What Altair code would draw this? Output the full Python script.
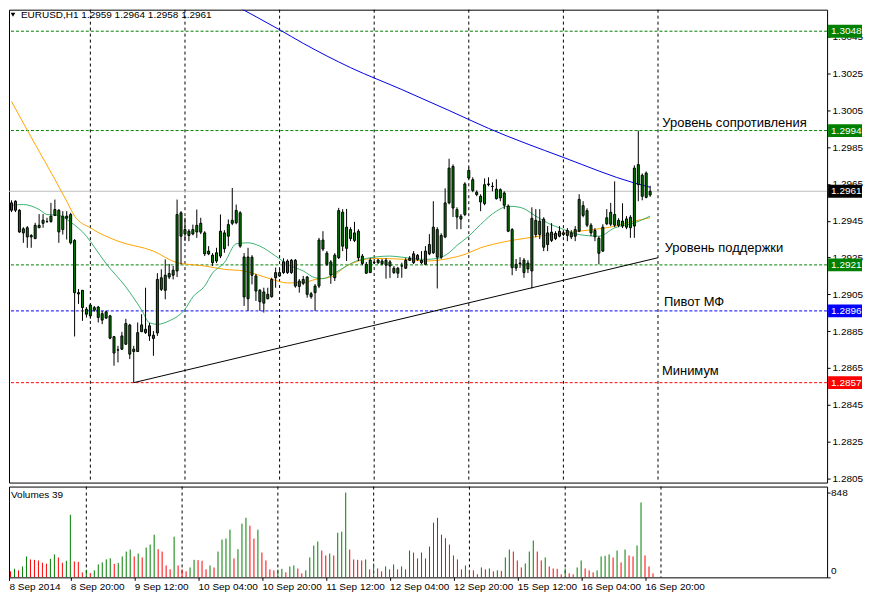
import json
import pandas as pd
import altair as alt

FONT = "Liberation Sans"
GREEN = "#008000"
RED = "#FF0000"
BLUE = "#0000FF"

# ---------------- data ----------------
OPEN = [1.29507, 1.29556, 1.29507, 1.29384, 1.29412, 1.29370, 1.29353, 1.29412, 1.29436, 1.29445,
        1.29446, 1.29479, 1.29507, 1.29402, 1.29464, 1.29484, 1.29343, 1.29059, 1.29072, 1.28969,
        1.28933, 1.28964, 1.28981, 1.28910, 1.28955, 1.28933, 1.28820, 1.28747, 1.28752, 1.28779,
        1.28883, 1.28739, 1.28739, 1.28847, 1.28842, 1.28879, 1.28828, 1.28840, 1.29140, 1.29072,
        1.29144, 1.29154, 1.29177, 1.29493, 1.29378, 1.29393, 1.29378, 1.29389, 1.29436, 1.29384,
        1.29270, 1.29263, 1.29231, 1.29258, 1.29384, 1.29366, 1.29436, 1.29439, 1.29493, 1.29253,
        1.29026, 1.29252, 1.29150, 1.29072, 1.29002, 1.29050, 1.29037, 1.29140, 1.29150, 1.29168,
        1.29231, 1.29168, 1.29235, 1.29093, 1.29110, 1.29144, 1.29053, 1.29059, 1.29095, 1.29345,
        1.29274, 1.29226, 1.29140, 1.29249, 1.29496, 1.29300, 1.29402, 1.29343, 1.29393, 1.29218,
        1.29213, 1.29168, 1.29222, 1.29236, 1.29216, 1.29235, 1.29226, 1.29192, 1.29192, 1.29204,
        1.29192, 1.29235, 1.29222, 1.29262, 1.29235, 1.29213, 1.29270, 1.29276, 1.29402, 1.29252,
        1.29362, 1.29547, 1.29745, 1.29511, 1.29459, 1.29484, 1.29724, 1.29673, 1.29605, 1.29583,
        1.29543, 1.29646, 1.29636, 1.29622, 1.29619, 1.29601, 1.29529, 1.29402, 1.29193, 1.29217,
        1.29236, 1.29220, 1.29177, 1.29452, 1.29375, 1.29459, 1.29321, 1.29388, 1.29353, 1.29366,
        1.29375, 1.29397, 1.29362, 1.29366, 1.29393, 1.29532, 1.29505, 1.29426, 1.29397, 1.29355,
        1.29285, 1.29433, 1.29431, 1.29484, 1.29425, 1.29448, 1.29415, 1.29469, 1.29421, 1.29755,
        1.29583, 1.29709, 1.29590]
HIGH = [1.29561, 1.29561, 1.29513, 1.29415, 1.29421, 1.29377, 1.29439, 1.29486, 1.29486, 1.29466,
        1.29547, 1.29565, 1.29513, 1.29502, 1.29502, 1.29493, 1.29350, 1.29079, 1.29073, 1.28981,
        1.28998, 1.28987, 1.28987, 1.28960, 1.28960, 1.28938, 1.28824, 1.28770, 1.28846, 1.28917,
        1.28890, 1.28770, 1.28897, 1.28942, 1.29086, 1.28895, 1.28851, 1.29165, 1.29186, 1.29240,
        1.29215, 1.29204, 1.29565, 1.29502, 1.29466, 1.29404, 1.29429, 1.29511, 1.29466, 1.29393,
        1.29312, 1.29274, 1.29303, 1.29484, 1.29399, 1.29457, 1.29628, 1.29538, 1.29502, 1.29274,
        1.29303, 1.29263, 1.29161, 1.29079, 1.29086, 1.29086, 1.29140, 1.29195, 1.29188, 1.29246,
        1.29240, 1.29242, 1.29242, 1.29133, 1.29150, 1.29150, 1.29063, 1.29106, 1.29357, 1.29393,
        1.29285, 1.29236, 1.29274, 1.29520, 1.29513, 1.29514, 1.29415, 1.29444, 1.29404, 1.29269,
        1.29226, 1.29247, 1.29242, 1.29242, 1.29242, 1.29247, 1.29236, 1.29204, 1.29199, 1.29222,
        1.29247, 1.29258, 1.29285, 1.29269, 1.29285, 1.29312, 1.29377, 1.29556, 1.29415, 1.29382,
        1.29626, 1.29787, 1.29756, 1.29523, 1.29486, 1.29659, 1.29740, 1.29686, 1.29615, 1.29594,
        1.29680, 1.29686, 1.29659, 1.29675, 1.29626, 1.29610, 1.29539, 1.29410, 1.29242, 1.29252,
        1.29247, 1.29236, 1.29523, 1.29513, 1.29513, 1.29469, 1.29421, 1.29437, 1.29393, 1.29421,
        1.29399, 1.29410, 1.29399, 1.29421, 1.29594, 1.29556, 1.29518, 1.29437, 1.29410, 1.29366,
        1.29431, 1.29513, 1.29547, 1.29664, 1.29464, 1.29545, 1.29475, 1.29480, 1.29751, 1.29940,
        1.29707, 1.29718, 1.29640]
LOW = [1.29497, 1.29497, 1.29384, 1.29330, 1.29303, 1.29303, 1.29350, 1.29410, 1.29412, 1.29439,
       1.29439, 1.29475, 1.29330, 1.29375, 1.29348, 1.29321, 1.28821, 1.28998, 1.28906, 1.28924,
       1.28917, 1.28955, 1.28897, 1.28888, 1.28917, 1.28806, 1.28662, 1.28680, 1.28748, 1.28775,
       1.28698, 1.28570, 1.28738, 1.28846, 1.28835, 1.28797, 1.28716, 1.28824, 1.29068, 1.29023,
       1.29133, 1.29131, 1.29144, 1.29213, 1.29339, 1.29339, 1.29371, 1.29357, 1.29377, 1.29258,
       1.29263, 1.29204, 1.29220, 1.29247, 1.29276, 1.29312, 1.29426, 1.29431, 1.29303, 1.28987,
       1.28960, 1.29104, 1.29014, 1.28960, 1.28951, 1.29023, 1.29032, 1.29086, 1.29144, 1.29161,
       1.29161, 1.29161, 1.29086, 1.29059, 1.29100, 1.29032, 1.29026, 1.28960, 1.29084, 1.29285,
       1.29204, 1.29107, 1.29122, 1.29242, 1.29285, 1.29231, 1.29339, 1.29334, 1.29231, 1.29209,
       1.29161, 1.29166, 1.29215, 1.29215, 1.29209, 1.29135, 1.29139, 1.29161, 1.29139, 1.29140,
       1.29188, 1.29231, 1.29215, 1.29231, 1.29215, 1.29209, 1.29263, 1.29269, 1.29082, 1.29242,
       1.29355, 1.29539, 1.29470, 1.29404, 1.29404, 1.29475, 1.29675, 1.29605, 1.29583, 1.29502,
       1.29534, 1.29637, 1.29610, 1.29565, 1.29556, 1.29513, 1.29388, 1.29154, 1.29177, 1.29193,
       1.29140, 1.29166, 1.29082, 1.29360, 1.29350, 1.29285, 1.29285, 1.29334, 1.29345, 1.29360,
       1.29366, 1.29339, 1.29350, 1.29339, 1.29388, 1.29469, 1.29415, 1.29366, 1.29339, 1.29213,
       1.29280, 1.29426, 1.29421, 1.29415, 1.29415, 1.29410, 1.29404, 1.29357, 1.29357, 1.29556,
       1.29561, 1.29572, 1.29580]
CLOSE = [1.29547, 1.29507, 1.29389, 1.29406, 1.29362, 1.29362, 1.29425, 1.29425, 1.29453, 1.29446,
         1.29475, 1.29511, 1.29389, 1.29475, 1.29475, 1.29330, 1.29059, 1.29052, 1.28978, 1.28942,
         1.28992, 1.28978, 1.28924, 1.28945, 1.28921, 1.28812, 1.28731, 1.28748, 1.28824, 1.28891,
         1.28725, 1.28752, 1.28842, 1.28884, 1.28860, 1.28824, 1.28810, 1.29131, 1.29077, 1.29154,
         1.29163, 1.29181, 1.29484, 1.29366, 1.29402, 1.29370, 1.29402, 1.29425, 1.29388, 1.29270,
         1.29285, 1.29222, 1.29276, 1.29393, 1.29298, 1.29429, 1.29452, 1.29506, 1.29312, 1.29036,
         1.29253, 1.29154, 1.29068, 1.29010, 1.29063, 1.29026, 1.29131, 1.29168, 1.29168, 1.29227,
         1.29168, 1.29235, 1.29095, 1.29122, 1.29131, 1.29050, 1.29037, 1.29095, 1.29345, 1.29296,
         1.29213, 1.29155, 1.29263, 1.29505, 1.29312, 1.29415, 1.29353, 1.29384, 1.29249, 1.29258,
         1.29165, 1.29236, 1.29223, 1.29222, 1.29231, 1.29209, 1.29204, 1.29168, 1.29165, 1.29204,
         1.29235, 1.29246, 1.29270, 1.29240, 1.29222, 1.29285, 1.29321, 1.29415, 1.29252, 1.29370,
         1.29547, 1.29736, 1.29519, 1.29470, 1.29475, 1.29650, 1.29682, 1.29614, 1.29592, 1.29552,
         1.29646, 1.29650, 1.29637, 1.29570, 1.29574, 1.29534, 1.29393, 1.29195, 1.29213, 1.29220,
         1.29168, 1.29188, 1.29463, 1.29375, 1.29448, 1.29306, 1.29384, 1.29343, 1.29381, 1.29393,
         1.29384, 1.29370, 1.29384, 1.29402, 1.29566, 1.29479, 1.29426, 1.29384, 1.29363, 1.29273,
         1.29415, 1.29466, 1.29496, 1.29426, 1.29452, 1.29421, 1.29460, 1.29412, 1.29736, 1.29646,
         1.29697, 1.29577, 1.29610]
VOLUME = [70, 60, 86, 70, 109, 209, 179, 175, 169, 146,
          136, 185, 229, 199, 146, 166, 626, 159, 155, 50,
          76, 43, 70, 129, 150, 180, 190, 135, 145, 209,
          258, 278, 209, 238, 199, 298, 328, 427, 282, 258,
          119, 80, 407, 119, 80, 60, 99, 175, 172, 166,
          80, 119, 99, 258, 378, 388, 477, 189, 282, 537,
          596, 517, 388, 477, 248, 169, 80, 70, 78, 85,
          50, 109, 119, 89, 40, 70, 199, 318, 358, 268,
          219, 238, 219, 447, 457, 848, 278, 179, 175, 169,
          179, 80, 139, 89, 60, 109, 80, 129, 80, 109,
          80, 268, 248, 189, 248, 189, 308, 547, 596, 427,
          391, 328, 219, 179, 80, 119, 76, 70, 30, 99,
          80, 89, 60, 70, 65, 199, 278, 258, 169, 99,
          139, 258, 368, 258, 169, 199, 109, 89, 85, 30,
          89, 40, 30, 99, 169, 89, 70, 50, 70, 209,
          215, 229, 199, 268, 149, 278, 219, 209, 318, 749,
          219, 109, 39]

# moving averages (bar index, value)
BLUE_MA_BARS = [57, 68, 74, 86, 99, 111, 121, 140, 158, 162]
BLUE_MA = [1.30617, 1.30488, 1.30414, 1.30282, 1.30163, 1.30049, 1.29952, 1.29794, 1.29655, 1.29632]
ORANGE_MA_BARS = [0, 6, 11, 14, 16, 20, 27, 36, 42, 49, 54, 59, 66, 70, 74, 77, 81, 85, 88, 92,
                  100, 105, 111, 115, 119, 122, 134, 144, 153, 158, 162]
ORANGE_MA = [1.30098, 1.29865, 1.29675, 1.29556, 1.29475, 1.29411, 1.29339, 1.29285, 1.29222, 1.29204,
             1.29186, 1.29177, 1.29132, 1.29112, 1.29113, 1.29131, 1.29144, 1.29204, 1.29231, 1.29245,
             1.29240, 1.29231, 1.29245, 1.29267, 1.29303, 1.29321, 1.29366, 1.29393, 1.29420, 1.29448,
             1.29466]
GREEN_MA_BARS = [0, 3, 7, 9, 12, 15, 19, 21, 24, 29, 33, 35, 37, 40, 44, 46, 49, 51, 54, 57,
                 60, 63, 67, 70, 74, 77, 79, 82, 85, 88, 96, 99, 105, 108, 111, 113, 116, 119, 123, 126,
                 129, 133, 136, 140, 144, 149, 153, 158, 162]
GREEN_MA = [1.29534, 1.29538, 1.29511, 1.29484, 1.29479, 1.29442, 1.29366, 1.29307, 1.29217, 1.29090,
            1.28965, 1.28895, 1.28887, 1.28906, 1.28969, 1.29036, 1.29095, 1.29166, 1.29222, 1.29325,
            1.29330, 1.29312, 1.29258, 1.29213, 1.29177, 1.29140, 1.29135, 1.29166, 1.29204, 1.29235,
            1.29258, 1.29252, 1.29240, 1.29245, 1.29276, 1.29316, 1.29366, 1.29430, 1.29502, 1.29529,
            1.29523, 1.29475, 1.29438, 1.29403, 1.29375, 1.29366, 1.29411, 1.29438, 1.29475]

TREND_BARS = [31, 164]
TREND_PRICES = [1.2857, 1.29249]

LEVEL_NAMES = ["r2", "r1", "s1", "pivot", "min"]
LEVEL_PRICES = [1.3048, 1.2994, 1.2921, 1.2896, 1.2857]
LAST_PRICE = 1.2961

ANNOT_TEXT = ["Уровень сопротивления", "Уровень поддержки", "Пивот МФ", "Минимум"]
ANNOT_BARS = [165.1, 165.7, 165.5, 165.0]
ANNOT_PRICES = [1.29957, 1.29281, 1.28985, 1.28613]

TITLE = "EURUSD,H1  1.2959 1.2964 1.2958 1.2961"
DAY_START_BARS = [20, 44, 68, 92, 116, 140, 164]
TIME_TICK_BARS = [0, 16, 32, 48, 64, 80, 96, 112, 128, 144, 160]
TIME_TICK_LABELS = ["8 Sep 2014", "8 Sep 20:00", "9 Sep 12:00", "10 Sep 04:00", "10 Sep 20:00",
                    "11 Sep 12:00", "12 Sep 04:00", "12 Sep 20:00", "15 Sep 12:00", "16 Sep 04:00",
                    "16 Sep 20:00"]
PRICE_TICKS = [1.2805, 1.2825, 1.2845, 1.2865, 1.2885, 1.2905, 1.2925, 1.2945, 1.2965, 1.2985,
               1.3005, 1.3025, 1.3045]

# ---------------- layout ----------------
W = 820
H_MAIN = 474
H_VOL = 91
BOX_W = 35
X_DOMAIN = [0.625, 205.625]
Y_DOMAIN = [1.28027, 1.30597]
VOL_TOP = 908
BOX_HALF = 0.00035

xs = alt.Scale(domain=X_DOMAIN, nice=False, zero=False)
ys = alt.Scale(domain=Y_DOMAIN, nice=False, zero=False)
vs = alt.Scale(domain=[0, VOL_TOP], nice=False, zero=False)

price_axis = alt.Axis(orient="right", values=PRICE_TICKS, format=".4f", title=None, grid=False,
                      domain=False, tickSize=3, tickColor="black", labelPadding=2,
                      labelFont=FONT, labelFontSize=10, labelColor="black")
tick_vals = [max(b, X_DOMAIN[0]) for b in TIME_TICK_BARS]
label_expr = json.dumps(TIME_TICK_LABELS) + "[round(datum.value / 16)]"
time_axis = alt.Axis(values=tick_vals, labelExpr=label_expr, orient="bottom", title=None, grid=False,
                     domain=False, tickSize=3, tickColor="black", labelAlign="left", labelPadding=1,
                     labelFont=FONT, labelFontSize=10, labelColor="black", labelOverlap=False,
                     labelBound=False, labelFlush=False)
vol_axis = alt.Axis(orient="right", values=[0, max(VOLUME)], labels=False, tickSize=3,
                    tickColor="black", domain=False, grid=False, title=None)


def PX(field="bar"):
    return alt.X(f"{field}:Q", scale=xs, axis=None)


def PY(field):
    return alt.Y(f"{field}:Q", scale=ys, axis=price_axis)


n = len(OPEN)
bars = list(range(n))
candles = pd.DataFrame({"bar": bars, "open": OPEN, "high": HIGH, "low": LOW, "close": CLOSE})
candles["dir"] = ["up" if c >= o else "down" for o, c in zip(OPEN, CLOSE)]
dir_scale = alt.Scale(domain=["up", "down"], range=[GREEN, RED])

vol_dir = ["down"] + ["up" if VOLUME[i] > VOLUME[i - 1] else "down" for i in range(1, n)]
vols = pd.DataFrame({"bar": bars, "vol": VOLUME, "zero": [0] * n, "dir": vol_dir})

grid_df = pd.DataFrame({"bar": DAY_START_BARS})
vgrid = alt.Chart(grid_df).mark_rule(color="black", strokeWidth=1, strokeDash=[3, 3]).encode(x=PX())

level_colors = {"r2": GREEN, "r1": GREEN, "s1": GREEN, "pivot": BLUE, "min": RED, "last": "#000000"}
lvl_scale = alt.Scale(domain=list(level_colors.keys()), range=list(level_colors.values()))
levels = pd.DataFrame({"name": LEVEL_NAMES, "price": LEVEL_PRICES})
hlines = alt.Chart(levels).mark_rule(strokeWidth=1, strokeDash=[3, 2]).encode(
    y=PY("price"), color=alt.Color("name:N", scale=lvl_scale, legend=None))

last_df = pd.DataFrame({"price": [LAST_PRICE]})
lastline = alt.Chart(last_df).mark_rule(color="#C0C0C0", strokeWidth=1).encode(y=PY("price"))


def ma_line(bx, vals, color):
    df = pd.DataFrame({"bar": bx, "value": vals})
    return alt.Chart(df).mark_line(color=color, strokeWidth=1, clip=True, interpolate="monotone").encode(
        x=PX(), y=PY("value"))


blue_ma = ma_line(BLUE_MA_BARS, BLUE_MA, "#0000E6")
orange_ma = ma_line(ORANGE_MA_BARS, ORANGE_MA, "#FFA500")
green_ma = ma_line(GREEN_MA_BARS, GREEN_MA, "#3CB371")

trend_df = pd.DataFrame({"bar": TREND_BARS, "price": TREND_PRICES})
trend = alt.Chart(trend_df).mark_line(color="black", strokeWidth=1, clip=True).encode(
    x=PX(), y=PY("price"))

wicks = alt.Chart(candles).mark_rule(color="black", strokeWidth=1, clip=True).encode(
    x=PX(), y=PY("low"), y2="high:Q")
bodies = alt.Chart(candles).mark_bar(size=2, stroke="black", strokeWidth=1, clip=True).encode(
    x=PX(), y=PY("open"), y2="close:Q",
    color=alt.Color("dir:N", scale=dir_scale, legend=None))

annot_df = pd.DataFrame({"bar": ANNOT_BARS, "price": ANNOT_PRICES, "text": ANNOT_TEXT})
annots = alt.Chart(annot_df).mark_text(align="left", baseline="alphabetic", font=FONT, fontSize=13,
                                       color="#000000").encode(
    x=PX(), y=PY("price"), text="text:N")

title_df = pd.DataFrame({"text": [TITLE]})
title_txt = alt.Chart(title_df).mark_text(align="left", baseline="middle", font=FONT, fontSize=10,
                                          color="black").encode(
    x=alt.value(12), y=alt.value(5), text="text:N")
title_tri = alt.Chart(title_df).mark_point(shape="triangle-down", filled=True, color="black",
                                           size=22, opacity=1).encode(
    x=alt.value(4), y=alt.value(5))

box_df = pd.DataFrame({"name": LEVEL_NAMES + ["last"], "price": LEVEL_PRICES + [LAST_PRICE]})
box_df["top"] = box_df["price"] + BOX_HALF
box_df["bot"] = box_df["price"] - BOX_HALF
box_df["label"] = box_df["price"].map(lambda p: f"{p:.4f}")
boxes = alt.Chart(box_df).mark_rect().encode(
    x=alt.value(W + 1), x2=alt.value(W + BOX_W),
    y=PY("top"), y2="bot:Q",
    color=alt.Color("name:N", scale=lvl_scale, legend=None))
box_txt = alt.Chart(box_df).mark_text(align="left", baseline="middle", font=FONT, fontSize=10,
                                      color="white").encode(
    x=alt.value(W + 4), y=PY("price"), text="label:N")

main = alt.layer(vgrid, hlines, lastline, blue_ma, orange_ma, green_ma, trend, wicks, bodies,
                 annots, title_tri, title_txt, boxes, box_txt).properties(width=W, height=H_MAIN)

# ---------------- volume panel ----------------
TX = alt.X("bar:Q", scale=xs, axis=time_axis)
vol_rules = alt.Chart(vols).mark_rule(strokeWidth=1, clip=True).encode(
    x=TX,
    y=alt.Y("zero:Q", scale=vs, axis=vol_axis),
    y2="vol:Q",
    color=alt.Color("dir:N", scale=dir_scale, legend=None))
vgrid2 = alt.Chart(grid_df).mark_rule(color="black", strokeWidth=1, strokeDash=[3, 3]).encode(x=TX)
vol_title = alt.Chart(pd.DataFrame({"text": [f"Volumes {VOLUME[-1]}"]})).mark_text(
    align="left", baseline="middle", font=FONT, fontSize=10, color="black").encode(
    x=alt.value(2), y=alt.value(8), text="text:N")
vmax_lbl = alt.Chart(pd.DataFrame({"v": [max(VOLUME)], "t": [str(max(VOLUME))]})).mark_text(
    align="left", baseline="middle", font=FONT, fontSize=10, color="black").encode(
    x=alt.value(W + 4), y=alt.Y("v:Q", scale=vs, axis=vol_axis), text="t:N")
vzero_lbl = alt.Chart(pd.DataFrame({"t": ["0"]})).mark_text(
    align="left", baseline="middle", font=FONT, fontSize=10, color="black").encode(
    x=alt.value(W + 4), y=alt.value(H_VOL - 6), text="t:N")

volume = alt.layer(vgrid2, vol_rules, vol_title, vmax_lbl, vzero_lbl).properties(width=W, height=H_VOL)

chart = alt.vconcat(main, volume, spacing=4, bounds="flush").properties(
    padding={"left": 0, "top": 0, "right": 0, "bottom": 0}, background="white"
).configure_view(stroke="black", strokeWidth=1).resolve_scale(color="independent")

chart.save("out.html", embed_options={"renderer": "svg", "actions": False})
